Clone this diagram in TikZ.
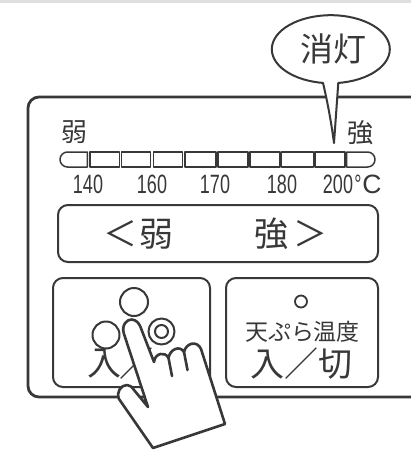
\documentclass[tikz,border=0pt]{standalone}
\usepackage{fontspec}
\usepackage{graphicx}
\newfontfamily\jpfont{Noto Sans CJK JP}
\newfontfamily\numfont{Liberation Sans}
\definecolor{ink}{HTML}{383838}
\newcommand\narrow[1]{\scalebox{0.68}[1]{#1}}

\begin{document}
\begin{tikzpicture}[x=1pt,y=-1pt,line join=round,line cap=round,
  frame/.style={draw=ink,line width=2.8pt},
  keybox/.style={draw=ink,line width=2pt,rounded corners=10pt,fill=white},
  segbox/.style={draw=ink,line width=1.5pt},
  lamp/.style={draw=ink,line width=2pt},
  bubble/.style={draw=ink,line width=2pt},
  handline/.style={draw=ink,line width=2.6pt},
  jp/.style={inner sep=0pt,text=ink,font=\jpfont\fontsize{#1}{#1}\selectfont},
  num/.style={inner sep=0pt,text=ink,font=\numfont\fontsize{26.5}{26.5}\selectfont},
]
\useasboundingbox (0,0) rectangle (411,451);
\fill[white] (0,0) rectangle (411,451);
\fill[gray!25] (0,0) rectangle (411,2.5);

% control panel outline, open to the right
\draw[frame,rounded corners=11pt] (413,97) -- (28,97) -- (28,397) -- (413,397);

% speech bubble
\draw[bubble,fill=white] (330.8,49.2) ellipse [x radius=59pt, y radius=34pt];
\fill[white] (323,82.8) .. controls (327,100) and (331,120) .. (334,143)
  -- (338.3,82.8) -- (338,77) -- (323.5,77) -- cycle;
\draw[bubble] (323,82.8) .. controls (327,100) and (331,120) .. (334,143)
  -- (338.3,82.8);
\node[jp=33] (off) at (333.5,48.5) {消灯};

% temperature scale
\node[jp=26] (weak) at (74,132.5) {弱};
\node[jp=26] (strong) at (360,132.5) {強};
\draw[segbox] (87.3,152) -- (67.5,152) arc[start angle=90,end angle=270,radius=7.5pt] -- (87.3,167) -- cycle;
\foreach \a/\b in {90/119.3,121.7/150.7,153.3/182.7,185/216,218/248,250/280,281.7/313.3,315/345}
  \draw[segbox] (\a,152) rectangle (\b,167);
\draw[segbox] (346.7,152) -- (367.5,152) arc[start angle=90,end angle=-90,radius=7.5pt] -- (346.7,167) -- cycle;
\node[num] (t140) at (88,184.5) {\narrow{140}};
\node[num] (t160) at (152,184.5) {\narrow{160}};
\node[num] (t170) at (215,184.5) {\narrow{170}};
\node[num] (t180) at (282,184.5) {\narrow{180}};
\node[num] (t200) at (338,184.5) {\narrow{200}};
\node[num] (deg) at (358,184.5) {\narrow{°}};
\node[num] (cel) at (372,184.5) {C};

% weak / strong key
\draw[keybox] (58,205) rectangle (378,262);
\node[jp=34] (lt) at (120,234) {＜};
\node[jp=34] (kweak) at (156.7,234) {弱};
\node[jp=34] (kstrong) at (271.7,234) {強};
\node[jp=34] (gt) at (310,234) {＞};

% power key
\draw[keybox] (53,278) rectangle (210,387);
\draw[lamp] (134,302) circle[radius=14pt];
\draw[lamp] (106,335) circle[radius=13.5pt];
\draw[lamp] (161.5,331.5) circle[radius=13pt];
\draw[lamp] (161.5,331.5) circle[radius=6.5pt];
\node[jp=34] (pin) at (105,364) {入};
\node[jp=34] (pslash) at (136,364) {／};

% tempura temperature key
\draw[keybox] (226,278) rectangle (378,387);
\draw[lamp,line width=1.8pt] (301,301.5) circle[radius=6pt];
\node[jp=23] (tempura) at (302.5,332) {天ぷら温度};
\node[jp=34] (onoff) at (302,364) {入／切};

% pressing hand
\draw[handline,fill=white] (148,407)
  -- (124,334)
  .. controls (121,325) and (127,319) .. (132,319.5)
  .. controls (136,320) and (139,323) .. (140.5,327)
  -- (154,362)
  .. controls (155,353) and (165,351) .. (168.5,358)
  .. controls (170,349) and (180,345) .. (184,352)
  .. controls (186,343) and (197,340) .. (201,349)
  -- (225,424)
  -- (153,448)
  -- (119,399)
  .. controls (116,392) and (121,385) .. (127,385)
  .. controls (130,385) and (132,387) .. (134,390)
  -- cycle;
\draw[handline] (168.5,358) -- (172,376);
\draw[handline] (184,352) -- (187.5,370);
\end{tikzpicture}
\end{document}
